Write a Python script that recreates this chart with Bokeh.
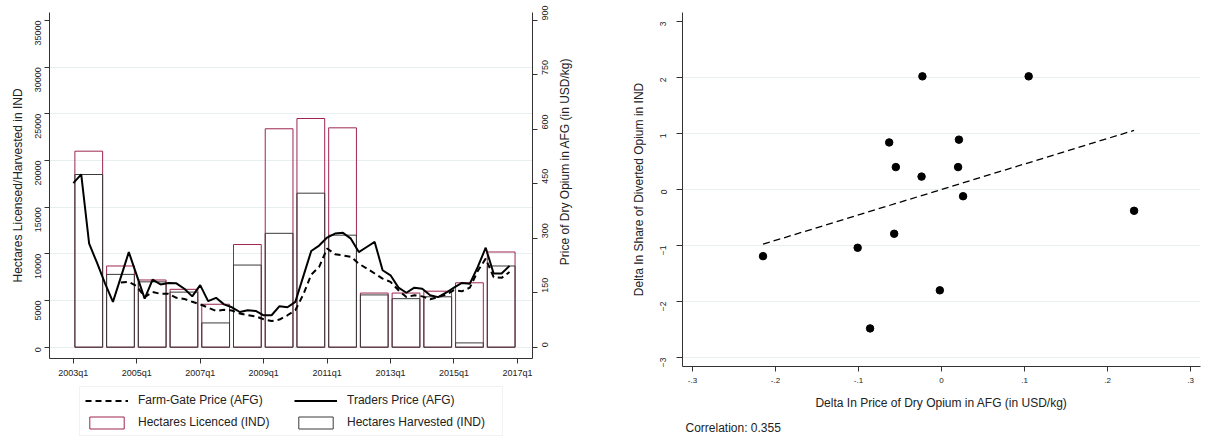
import math
import numpy as np
from bokeh.plotting import figure
from bokeh.models import (Range1d, LinearAxis, FixedTicker, Legend, LegendItem, Label, Title,
                          ColumnDataSource)
from bokeh.layouts import row, column
from bokeh.embed import file_html
from bokeh.resources import INLINE

FONT = "Liberation Sans"
TXT = "#222222"
AXC = "#333333"
GRID = "#e8eff1"
MAROON = "#9e2552"
HARV = "#3a3a3a"

# ---------------- data: left chart ----------------
years = [2003, 2004, 2005, 2006, 2007, 2008, 2009, 2010, 2011, 2012, 2013, 2014, 2015, 2016]
hectares_licenced = [21000, 8700, 7200, 6200, 4600, 11000, 23400, 24500, 23500, 5800, 5800, 6000, 6900, 10200]
hectares_harvested = [18500, 7800, 7000, 5900, 2600, 8800, 12200, 16500, 12000, 5600, 5200, 5400, 460, 8700]

# quarterly prices 2003q1 .. 2016q4 (USD/kg)
traders_price = [452, 476, 285, 232, 176, 125, 193, 262, 198, 134,
                 186, 173, 177, 176, 161, 140, 171, 127, 136, 118,
                 110, 97, 102, 100, 88, 88, 113, 110, 125, 195,
                 265, 280, 302, 313, 315, 299, 262, 276, 290, 212,
                 198, 164, 150, 164, 161, 143, 138, 150, 164, 177,
                 175, 221, 274, 203, 203, 224]
nan = float("nan")
farmgate_price = [nan, nan, nan, nan, nan, nan,
                  178, 180, 168, 138, 152, 147, 147, 136, 133, 125,
                  118, 109, 100, 103, 101, 93, 88, 85, 77, 72,
                  76, 88, 102, 145, 200, 221, 272, 256, 253, 249,
                  230, 217, 203, 189, 180, 157, 138, 143, 140, 132,
                  138, 145, 157, 154, 164, 210, 244, 193, 191, 207]

x_tick_labels = ["2003q1", "2005q1", "2007q1", "2009q1", "2011q1", "2013q1", "2015q1", "2017q1"]
left_ticks = [0, 5000, 10000, 15000, 20000, 25000, 30000, 35000]
price_ticks = [0, 150, 300, 450, 600, 750, 900]
price_title = "Price of Dry Opium in AFG (in USD/kg)"
legend_labels = ["Farm-Gate Price (AFG)", "Traders Price (AFG)",
                 "Hectares Licenced (IND)", "Hectares Harvested (IND)"]

# ---------------- data: right chart ----------------
delta_price = [-0.023, 0.105, -0.063, 0.021, -0.055, 0.020, -0.024, 0.026, 0.232, -0.057, -0.101, -0.215, -0.002, -0.086]
delta_share = [2.02, 2.02, 0.84, 0.89, 0.40, 0.40, 0.23, -0.12, -0.38, -0.79, -1.04, -1.19, -1.80, -2.48]
right_x_ticks = [-0.3, -0.2, -0.1, 0, 0.1, 0.2, 0.3]
right_x_labels = ["-.3", "-.2", "-.1", "0", ".1", ".2", ".3"]
right_y_ticks = [-3, -2, -1, 0, 1, 2, 3]
correlation_text = "Correlation: 0.355"


def style_axis(ax, label_size="9px"):
    ax.axis_line_color = AXC
    ax.major_tick_line_color = AXC
    ax.minor_tick_line_color = None
    ax.major_tick_in = 0
    ax.major_label_text_font = FONT
    ax.major_label_text_font_size = label_size
    ax.major_label_text_color = TXT
    ax.axis_label_text_font = FONT
    ax.axis_label_text_font_size = "12px"
    ax.axis_label_text_font_style = "normal"
    ax.axis_label_text_color = TXT


def blank(fig):
    fig.outline_line_color = None
    fig.background_fill_color = "white"
    fig.border_fill_color = "white"


H = 440
H1 = 382

bar_src = ColumnDataSource(dict(
    x=[(y - years[0]) * 4 + 1.95 for y in years],
    licenced=hectares_licenced, harvested=hectares_harvested))
price_src = ColumnDataSource(dict(
    q=list(range(len(traders_price))), traders=traders_price, farmgate=farmgate_price))

# ================= left figure =================
ymin, ymax = -1211, 35857
k = 900 / 35000
p1 = figure(width=556, height=H1, x_range=Range1d(-3, 57.9), y_range=Range1d(ymin, ymax),
            output_backend="svg", toolbar_location=None,
            min_border_left=49, min_border_right=24, min_border_top=12, min_border_bottom=24)
blank(p1)
p1.extra_y_ranges = {"price": Range1d(ymin * k, ymax * k)}

p1.xgrid.visible = False
p1.ygrid.ticker = FixedTicker(ticks=left_ticks[:-1])
p1.ygrid.grid_line_color = GRID

xax = p1.xaxis[0]
style_axis(xax)
xax.ticker = FixedTicker(ticks=[8 * i for i in range(len(x_tick_labels))])
xax.major_label_overrides = {8 * i: lab for i, lab in enumerate(x_tick_labels)}
xax.major_tick_out = 5
xax.major_label_standoff = 4

yax = p1.yaxis[0]
style_axis(yax)
yax.ticker = FixedTicker(ticks=left_ticks)
yax.major_tick_out = 5
yax.major_label_standoff = 6
yax.major_label_orientation = math.pi / 2
yax.axis_label = "Hectares Licensed/Harvested in IND"
yax.axis_label_standoff = 5

rax = LinearAxis(y_range_name="price")
style_axis(rax)
rax.ticker = FixedTicker(ticks=price_ticks)
rax.major_tick_out = 5
rax.major_label_standoff = 8
rax.major_label_orientation = math.pi / 2
p1.add_layout(rax, "right")

bar_lic = dict(x="x", top="licenced", bottom=0, width=3.5, fill_color="white", fill_alpha=0,
               line_color=MAROON, line_width=1, source=bar_src)
bar_har = dict(x="x", top="harvested", bottom=0, width=3.5, fill_color="white", fill_alpha=0,
               line_color=HARV, line_width=1, source=bar_src)
line_fg = dict(x="q", y="farmgate", line_color="black", line_width=2, line_dash="6 4", source=price_src)
line_tr = dict(x="q", y="traders", line_color="black", line_width=2, source=price_src)

p1.vbar(**bar_lic)
p1.vbar(**bar_har)
p1.line(y_range_name="price", **line_fg)
p1.line(y_range_name="price", **line_tr)

# ======== narrow strip holding the right-axis title (reads bottom-to-top) ========
pt = figure(width=55, height=H1, x_range=Range1d(0, 1), y_range=Range1d(0, 1),
            x_axis_type=None, y_axis_type=None,
            output_backend="svg", toolbar_location=None,
            min_border_left=0, min_border_right=0, min_border_top=0, min_border_bottom=0)
blank(pt)
pt.grid.visible = False
pt.add_layout(Label(x=8, y=H1 - 185, x_units="screen", y_units="screen", text=price_title,
                    angle=math.pi / 2, text_align="center", text_baseline="middle",
                    text_font=FONT, text_font_size="12px", text_color=TXT))

# ======== legend strip under the left chart (legend keys share the chart's data, hidden) ========
pl = figure(width=611, height=H - H1, x_range=Range1d(0, 1), y_range=Range1d(0, 1),
            x_axis_type=None, y_axis_type=None,
            output_backend="svg", toolbar_location=None,
            min_border_left=0, min_border_right=0, min_border_top=0, min_border_bottom=0)
blank(pl)
pl.grid.visible = False
g_fg = pl.line(**line_fg)
g_tr = pl.line(**line_tr)
g_lic = pl.vbar(**bar_lic)
g_har = pl.vbar(**bar_har)
for g in (g_fg, g_tr, g_lic, g_har):
    g.visible = False
legend = Legend(
    items=[LegendItem(label=lab, renderers=[r]) for lab, r in zip(legend_labels, [g_fg, g_tr, g_lic, g_har])],
    location=(79, 4), orientation="horizontal", ncols=2,
    glyph_width=43, glyph_height=15, label_standoff=10, label_width=150, label_height=16,
    spacing=6, padding=5, margin=0, click_policy="none",
    inactive_fill_alpha=0,
    border_line_color="#dfe7ea", border_line_width=1,
    background_fill_color="white", background_fill_alpha=1,
    label_text_font=FONT, label_text_font_size="12px", label_text_color=TXT)
pl.add_layout(legend)

# ================= right figure =================
p2 = figure(width=597, height=H, x_range=Range1d(-0.312, 0.312), y_range=Range1d(-3.16, 3.16),
            output_backend="svg", toolbar_location=None,
            min_border_left=71, min_border_right=8, min_border_top=12, min_border_bottom=72)
blank(p2)
p2.xgrid.visible = False
p2.ygrid.ticker = FixedTicker(ticks=right_y_ticks[:-1])
p2.ygrid.grid_line_color = GRID

x2 = p2.xaxis[0]
style_axis(x2, "8px")
x2.ticker = FixedTicker(ticks=right_x_ticks)
x2.major_label_overrides = {t: lab for t, lab in zip(right_x_ticks, right_x_labels)}
x2.major_tick_out = 5
x2.major_label_standoff = 6
x2.axis_label = "Delta In Price of Dry Opium in AFG (in USD/kg)"
x2.axis_label_standoff = 10

y2 = p2.yaxis[0]
style_axis(y2, "8.5px")
y2.ticker = FixedTicker(ticks=right_y_ticks)
y2.major_tick_out = 6
y2.major_label_standoff = 13
y2.major_label_orientation = math.pi / 2
y2.axis_label = "Delta In Share of Diverted Opium in IND"
y2.axis_label_standoff = 9

slope, intercept = np.polyfit(delta_price, delta_share, 1)
fx = np.array([min(delta_price), max(delta_price)])
p2.line(fx, slope * fx + intercept, line_color="black", line_width=1.3, line_dash="7 4")
p2.scatter(delta_price, delta_share, size=7.5, fill_color="black", line_color="black")

corr = Title(text=correlation_text, align="left", offset=3, standoff=12,
             text_font=FONT, text_font_size="12px", text_font_style="normal", text_color=TXT)
p2.add_layout(corr, "below")

layout = row(column(row(p1, pt), pl), p2)
open("out.html", "w").write(file_html(layout, INLINE))
